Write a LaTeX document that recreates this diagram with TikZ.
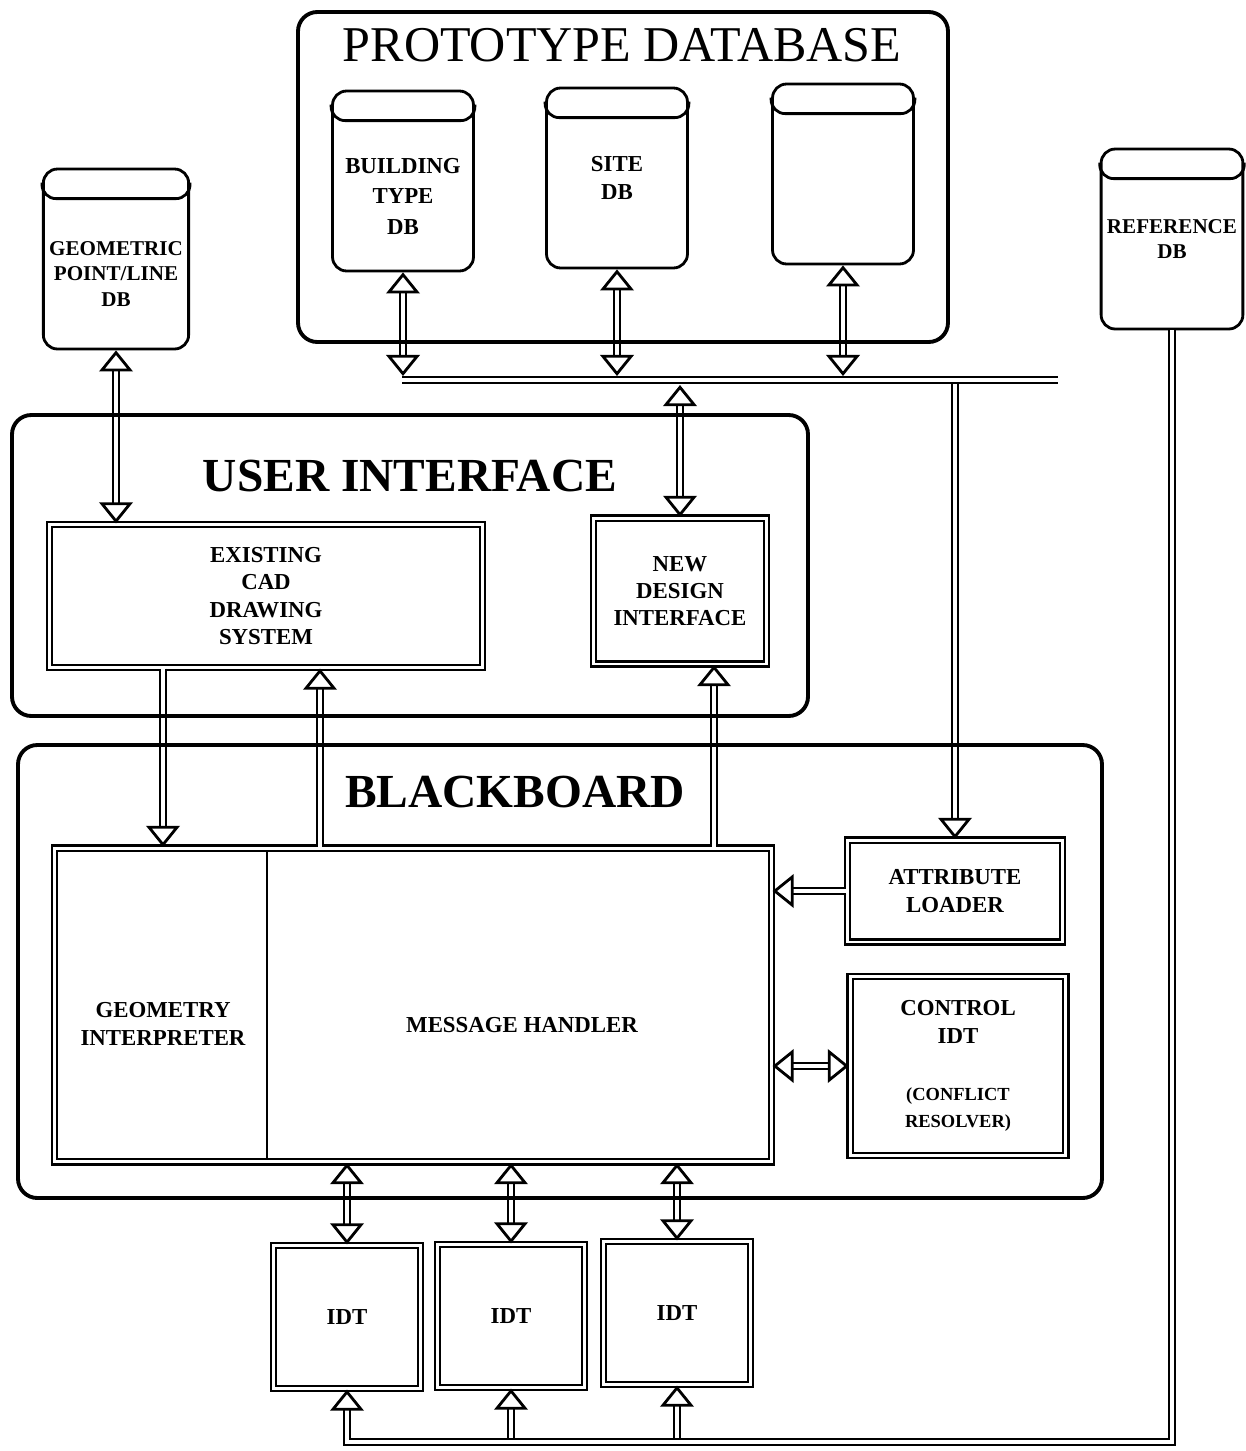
\documentclass[tikz,border=0pt]{standalone}
\usepackage{fontspec}
\setmainfont{Liberation Serif}
\usetikzlibrary{calc,arrows.meta}
\newcommand\lbl{\fontsize{13}{15.5}\selectfont\bfseries}
\newcommand\sml{\fontsize{10.5}{14}\selectfont\bfseries}
\def\dbcap(#1){\draw[line width=1.6pt, rounded corners=8pt] ($(#1.north west)+(0,15)$) |- ($(#1.north)+(0,31)$) -| ($(#1.north east)+(0,15)$);}
\tikzset{
	panel/.style={line width=2.2pt, rounded corners=11pt},
	title/.style={font=\fontsize{27}{30}\selectfont\bfseries},
	dbase/.style={draw, line width=1.6pt, rounded corners=8pt, minimum width=2.82cm, minimum height=3.6cm, align=center, font=\lbl},
	unit/.style={draw, double, double distance=1.7pt, line width=1.3pt, align=center, font=\lbl},
	idtbox/.style={unit, minimum width=2.94cm, minimum height=2.86cm},
	link/.style={double, double distance=2.1pt, line width=1.2pt}
}

\begin{document}
\begin{tikzpicture}[x=0.02cm, y=-0.02cm, >={Triangle[open, width=19pt, length=12pt, line width=1.6pt]}]
		%%%%% START %%%%%
		\useasboundingbox (0,0) rectangle (1245,1451);
		
		\node[font=\fontsize{28.5}{30}\selectfont] (pdtitle) at (622,45) {PROTOTYPE DATABASE};
		\node[dbase, font=\fontsize{13}{17.5}\selectfont\bfseries] (bldgdb) at (403,181) {\rule{0pt}{26pt}BUILDING\\TYPE\\DB};
		\node[dbase] (sitedb) at (617,178) {SITE\\DB};
		\node[dbase] (blankdb) at (843,174) {};
		\node[dbase, font=\fontsize{12}{14.5}\selectfont\bfseries] (geomdb) at (116,259) {\rule{0pt}{25pt}GEOMETRIC\\POINT/LINE\\DB};
		\node[dbase, font=\fontsize{12}{14.5}\selectfont\bfseries] (refdb) at (1172,239) {REFERENCE\\DB};
		\dbcap(bldgdb)
		\dbcap(sitedb)
		\dbcap(blankdb)
		\dbcap(geomdb)
		\dbcap(refdb)
		
		\node[title] (uititle) at (410,476) {USER INTERFACE};
		\node[unit, minimum width=8.66cm, minimum height=2.86cm] (cad) at (266,596) {EXISTING\\CAD\\DRAWING\\SYSTEM};
		\node[unit, minimum width=3.46cm, minimum height=2.92cm] (newdesign) at (680,591) {NEW\\DESIGN\\INTERFACE};
		
		\node[title] (bbtitle) at (515,792) {BLACKBOARD};
		\node[unit, minimum width=14.34cm, minimum height=6.28cm] (board) at (413,1005) {};
		\node[font=\lbl, align=center] (geomint) at (163,1024) {GEOMETRY\\INTERPRETER};
		\node[font=\lbl] (msghandler) at (522,1025) {MESSAGE HANDLER};
		\coordinate (split) at (267,1000);
		\draw[line width=1.2pt, shorten <=2pt, shorten >=2pt] (board.north -| split) -- (board.south -| split);
		\node[unit, minimum width=4.3cm, minimum height=2.04cm] (attrloader) at (955,891) {ATTRIBUTE\\LOADER};
		\node[unit, minimum width=4.32cm, minimum height=3.58cm] (ctrlidt) at (958,1066) {CONTROL\\IDT\\[17pt]\sml (CONFLICT\\\sml RESOLVER)};
		
		\node[idtbox] (idtA) at (347,1317) {IDT};
		\node[idtbox] (idtB) at (511,1316) {IDT};
		\node[idtbox] (idtC) at (677,1313) {IDT};
		
		% bus lines
		\coordinate (busL) at (402,380);
		\coordinate (busR) at (1058,380);
		\coordinate (bustop) at (0,376);
		\coordinate (busbot) at (0,385);
		\coordinate (botbus) at (0,1442);
		\coordinate (upcad) at (320,760);
		\coordinate (upnew) at (714,760);
		
		\draw[link, ->] (attrloader.north |- busL) -- (attrloader.north);
		\draw[link] (busL) -- (busR);
		\draw[link, <->] (bldgdb.south) -- (bldgdb.south |- bustop);
		\draw[link, <->] (sitedb.south) -- (sitedb.south |- bustop);
		\draw[link, <->] (blankdb.south) -- (blankdb.south |- bustop);
		\draw[link, <->] (newdesign.north |- busbot) -- (newdesign.north);
		\draw[link, <->] (geomdb.south) -- (geomdb.south |- cad.north);
		
		\draw[link, ->] (cad.south -| geomint) -- (board.north -| geomint);
		\draw[link, ->] (board.north -| upcad) -- (cad.south -| upcad);
		\draw[link, ->] (board.north -| upnew) -- (newdesign.south -| upnew);
		\draw[link, ->] (attrloader.west) -- (attrloader.west -| board.east);
		\draw[link, <->] (ctrlidt.west) -- (ctrlidt.west -| board.east);
		
		\draw[link, <->] (board.south -| idtA) -- (idtA.north);
		\draw[link, <->] (board.south -| idtB) -- (idtB.north);
		\draw[link, <->] (board.south -| idtC) -- (idtC.north);
		
		\draw[link, ->] (idtB.south |- botbus) -- (idtB.south);
		\draw[link, ->] (idtC.south |- botbus) -- (idtC.south);
		\draw[link, ->] (refdb.south) -- (refdb.south |- botbus) -- (idtA.south |- botbus) -- (idtA.south);
		
		\draw[panel] (298,12) rectangle (948,342);
		\draw[panel] (12,415) rectangle (808,716);
		\draw[panel] (18,745) rectangle (1102,1198);
		
		%%%%% END %%%%%
\end{tikzpicture}
\end{document}
